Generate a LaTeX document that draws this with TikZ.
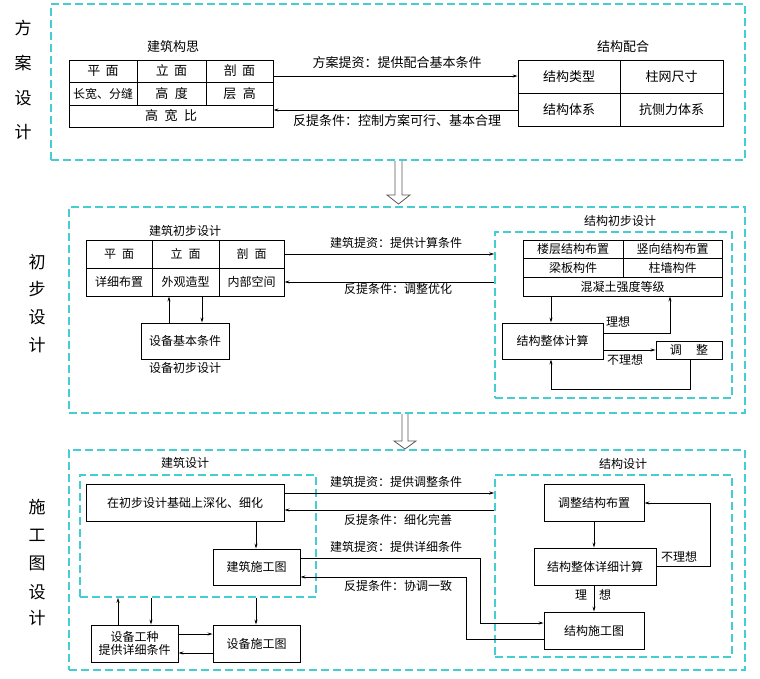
\documentclass[tikz,border=0pt]{standalone}
\usepackage{fontspec}
\setmainfont{Noto Sans CJK SC}
\usetikzlibrary{arrows.meta}
\definecolor{dashc}{RGB}{70,205,210}
\begin{document}
\begin{tikzpicture}[x=1pt,y=-1pt,
 box/.style={draw,line width=0.9pt,inner sep=0pt},
 cell/.style={draw,line width=0.6pt,inner sep=0pt},
 grp/.style={draw=dashc,dash pattern=on 8pt off 4pt,line width=1.2pt,inner sep=0pt},
 igrp/.style={grp,line width=1.6pt},
 arr/.style={line width=0.8pt,-{Stealth[length=5pt,width=3pt]}},
 ln/.style={line width=0.8pt},
 lbl/.style={inner sep=0pt},
 fa/.style={font=\fontsize{13}{15}\selectfont},
 fb/.style={font=\fontsize{12}{14}\selectfont},
 side/.style={inner sep=0pt,font=\fontsize{17}{17}\selectfont},
 dbl/.style={draw=gray!70!black,line width=0.8pt}]
\useasboundingbox (0,0) rectangle (760,678);

% ---------------- Section 1 ----------------
\node[grp,minimum width=694pt,minimum height=156pt] (g1) at (398,82) {};
\node[side] (s1a) at (23,28) {方};
\node[side] (s1b) at (23,63) {案};
\node[side] (s1c) at (23,98) {设};
\node[side] (s1d) at (23,132) {计};

\node[lbl,fa] (h1a) at (173,47) {建筑构思};
\node[cell,fa,minimum width=68pt,minimum height=22pt] (a1c11) at (103,71) {平\hspace{0.4em}面};
\node[cell,fa,minimum width=69pt,minimum height=22pt] (a1c12) at (171.5,71) {立\hspace{0.4em}面};
\node[cell,fa,minimum width=67pt,minimum height=22pt] (a1c13) at (239.5,71) {剖\hspace{0.4em}面};
\node[cell,fa,minimum width=68pt,minimum height=23pt] (a1c21) at (103,93.5) {\fontsize{12}{14}\selectfont 长宽、分缝};
\node[cell,fa,minimum width=69pt,minimum height=23pt] (a1c22) at (171.5,93.5) {高\hspace{0.5em}度};
\node[cell,fa,minimum width=67pt,minimum height=23pt] (a1c23) at (239.5,93.5) {层\hspace{0.5em}高};
\node[cell,fa,minimum width=204pt,minimum height=22pt] (a1c31) at (171,116) {高\hspace{0.5em}宽\hspace{0.5em}比};
\node[box,minimum width=204pt,minimum height=67pt] (a1) at (171,93.5) {};

\node[lbl,fa] (h1b) at (623,47) {结构配合};
\node[cell,fa,minimum width=102pt,minimum height=33pt] (s1c11) at (569,76.5) {结构类型};
\node[cell,fa,minimum width=103pt,minimum height=33pt] (s1c12) at (671.5,76.5) {柱网尺寸};
\node[cell,fa,minimum width=102pt,minimum height=33pt] (s1c21) at (569,109.5) {结构体系};
\node[cell,fa,minimum width=103pt,minimum height=33pt] (s1c22) at (671.5,109.5) {抗侧力体系};
\node[box,minimum width=205pt,minimum height=66pt] (s1) at (620.5,93) {};

\draw[arr] (a1.east |- 0,76) -- (s1.west |- 0,76);
\draw[arr] (s1.west |- 0,110) -- (a1.east |- 0,110);
\node[lbl,fa] (l1a) at (397,63) {方案提资：提供配合基本条件};
\node[lbl,fa] (l1b) at (397,121) {反提条件：控制方案可行、基本合理};

% double arrow 1
\draw[dbl] (395,161) -- (395,195) -- (387,195) -- (398.5,204) -- (410,195) -- (402,195) -- (402,161);

% ---------------- Section 2 ----------------
\node[grp,minimum width=676pt,minimum height=206pt] (g2) at (407,310) {};
\node[side] (s2a) at (37,262) {初};
\node[side] (s2b) at (37,289) {步};
\node[side] (s2c) at (37,317) {设};
\node[side] (s2d) at (37,345) {计};

\node[lbl,fb] (h2a) at (185,231) {建筑初步设计};
\node[cell,fb,minimum width=66pt,minimum height=28pt] (a2c11) at (119,254) {平\hspace{0.5em}面};
\node[cell,fb,minimum width=67pt,minimum height=28pt] (a2c12) at (185.5,254) {立\hspace{0.5em}面};
\node[cell,fb,minimum width=65pt,minimum height=28pt] (a2c13) at (251.5,254) {剖\hspace{0.5em}面};
\node[cell,fb,minimum width=66pt,minimum height=28pt] (a2c21) at (119,282) {详细布置};
\node[cell,fb,minimum width=67pt,minimum height=28pt] (a2c22) at (185.5,282) {外观造型};
\node[cell,fb,minimum width=65pt,minimum height=28pt] (a2c23) at (251.5,282) {内部空间};
\node[box,minimum width=198pt,minimum height=56pt] (a2) at (185,268) {};

\node[box,fb,minimum width=88pt,minimum height=36pt] (e2) at (185,341) {设备基本条件};
\node[lbl,fb] (h2b) at (185,368) {设备初步设计};
\draw[arr] (e2.north -| 169,0) -- (a2.south -| 169,0);
\draw[arr] (a2.south -| 202,0) -- (e2.north -| 202,0);

\node[igrp,minimum width=237pt,minimum height=166pt] (s2g) at (613.5,315) {};
\node[lbl,fb] (h2c) at (620,221) {结构初步设计};
\node[cell,fb,minimum width=100pt,minimum height=18pt] (s2c11) at (573,249) {楼层结构布置};
\node[cell,fb,minimum width=99pt,minimum height=18pt] (s2c12) at (672.5,249) {竖向结构布置};
\node[cell,fb,minimum width=100pt,minimum height=19pt] (s2c21) at (573,267.5) {梁板构件};
\node[cell,fb,minimum width=99pt,minimum height=19pt] (s2c22) at (672.5,267.5) {柱墙构件};
\node[cell,fb,minimum width=199pt,minimum height=19pt] (s2c31) at (622.5,286.5) {混凝土强度等级};
\node[box,minimum width=199pt,minimum height=56pt] (s2) at (622.5,268) {};

\node[box,fb,minimum width=101pt,minimum height=36pt] (c2) at (552.5,341) {结构整体计算};
\node[box,fb,minimum width=66pt,minimum height=18pt] (adj2) at (689,350) {调\hspace{1.2em}整};

\draw[arr] (a2.east |- 0,254) -- (s2g.west |- 0,254);
\draw[arr] (s2g.west |- 0,282) -- (a2.east |- 0,282);
\node[lbl,fb] (l2a) at (396,243) {建筑提资：提供计算条件};
\node[lbl,fb] (l2b) at (398,289) {反提条件：调整优化};

\draw[arr] (s2.south -| 551,0) -- (c2.north -| 551,0);
\draw[arr] (c2.east |- 0,333) -| (s2.south -| 670,0);
\draw[arr] (c2.east |- 0,350) -- (adj2.west |- 0,350);
\draw[arr] (adj2.south -| 690,0) -- (690,389) -| (c2.south -| 551,0);
\node[lbl,fb] (l2c) at (618,322) {理想};
\node[lbl,fb] (l2d) at (625,360) {不理想};

% double arrow 2
\draw[dbl] (402,414) -- (402,441) -- (394,441) -- (405,449) -- (416,441) -- (408,441) -- (408,414);

% ---------------- Section 3 ----------------
\node[grp,minimum width=676pt,minimum height=220pt] (g3) at (407,560) {};
\node[side] (s3a) at (37,507) {施};
\node[side] (s3b) at (37,535) {工};
\node[side] (s3c) at (37,563) {图};
\node[side] (s3d) at (37,592) {设};
\node[side] (s3e) at (37,618) {计};

\node[igrp,minimum width=236pt,minimum height=122pt] (a3g) at (198,536) {};
\node[lbl,fb] (h3a) at (185,463) {建筑设计};
\node[box,fb,minimum width=198pt,minimum height=37pt] (deep) at (185,502.5) {在初步设计基础上深化、细化};
\node[box,fb,minimum width=87pt,minimum height=36pt] (ajs) at (256.5,567) {建筑施工图};
\node[box,fb,minimum width=87pt,minimum height=37pt,align=center] (eq) at (134.5,643.5) {设备工种\\[-1pt]提供详细条件};
\node[box,fb,minimum width=87pt,minimum height=37pt] (eqd) at (256.5,643.5) {设备施工图};

\draw[arr] (deep.south -| 256,0) -- (ajs.north -| 256,0);
\draw[arr] (eq.north -| 118,0) -- (a3g.south -| 118,0);
\draw[arr] (a3g.south -| 151,0) -- (eq.north -| 151,0);
\draw[arr] (a3g.south -| 256,0) -- (eqd.north -| 256,0);
\draw[arr] (eq.east |- 0,634) -- (eqd.west |- 0,634);
\draw[arr] (eqd.west |- 0,653) -- (eq.east |- 0,653);

\node[igrp,minimum width=237pt,minimum height=182pt] (s3g) at (613.5,566) {};
\node[lbl,fb] (h3b) at (623,464) {结构设计};
\node[box,fb,minimum width=100pt,minimum height=37pt] (adj3) at (594,502.5) {调整结构布置};
\node[box,fb,minimum width=122pt,minimum height=37pt] (calc3) at (595,566.5) {结构整体详细计算};
\node[box,fb,minimum width=100pt,minimum height=37pt] (sdraw) at (594,630.5) {结构施工图};

\draw[arr] (adj3.south -| 594,0) -- (calc3.north -| 594,0);
\draw[arr] (calc3.south -| 594,0) -- (sdraw.north -| 594,0);
\node[lbl,fb] (l3e) at (593,595) {理\hspace{1em}想};
\draw[arr] (calc3.east |- 0,566) -- (710,566) |- (adj3.east |- 0,503);
\node[lbl,fb] (l3f) at (679,557) {不理想};

\draw[arr] (deep.east |- 0,493) -- (s3g.west |- 0,493);
\draw[arr] (s3g.west |- 0,510) -- (deep.east |- 0,510);
\node[lbl,fb] (l3a) at (396,482) {建筑提资：提供调整条件};
\node[lbl,fb] (l3b) at (398,520) {反提条件：细化完善};

\draw[arr] (ajs.east |- 0,558) -- (480,558) |- (sdraw.west |- 0,623);
\draw[arr] (sdraw.west |- 0,639) -- (466,639) |- (ajs.east |- 0,577);
\node[lbl,fb] (l3c) at (396,547) {建筑提资：提供详细条件};
\node[lbl,fb] (l3d) at (398,586) {反提条件：协调一致};
\end{tikzpicture}
\end{document}
